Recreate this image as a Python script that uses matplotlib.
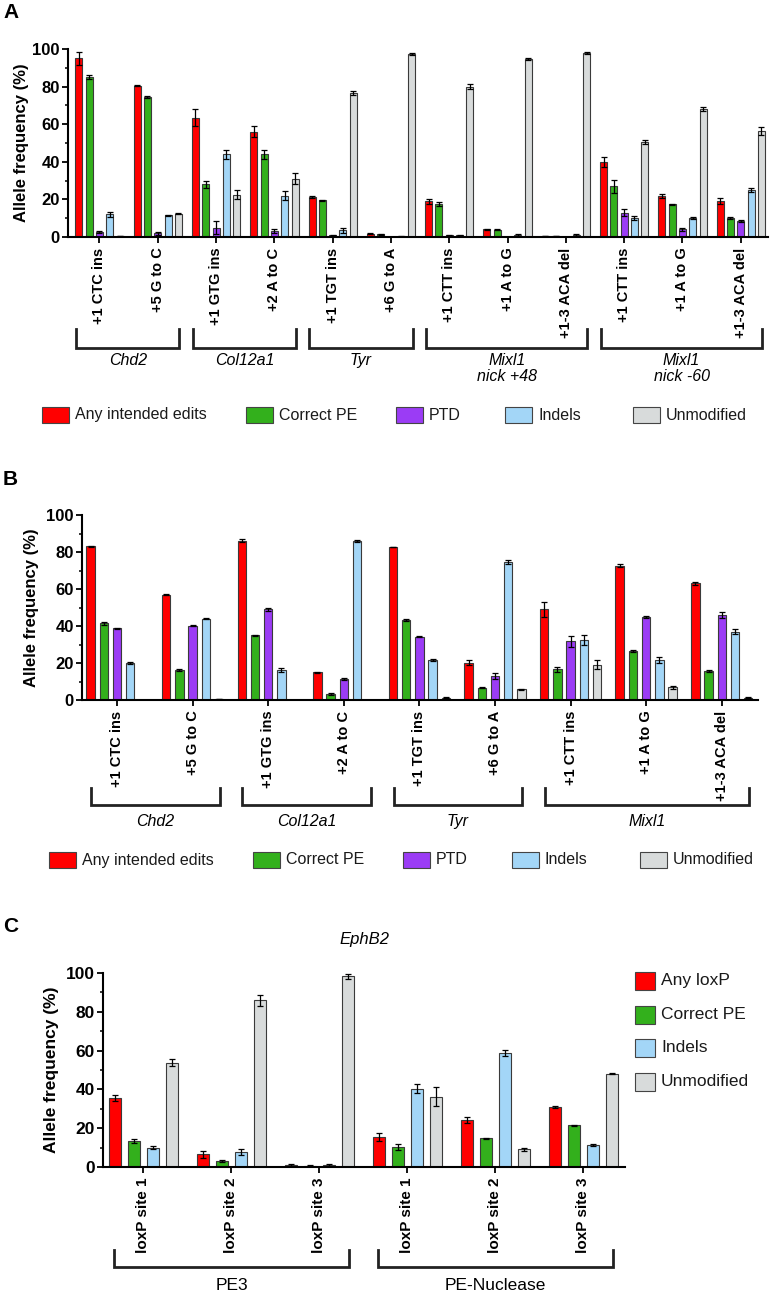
import matplotlib.pyplot as plt
import numpy as np
from matplotlib.patches import Rectangle
from matplotlib.transforms import blended_transform_factory

plt.rcParams['font.family'] = ['Liberation Sans', 'DejaVu Sans']

W, H = 771, 1295

# ---------------- data ----------------
red, green, purple, blue, gray = '#ff0000', '#33b01c', '#9b3cf5', '#a3d6f7', '#d8dbdb'

# panel A
a_labels = ['+1 CTC ins', '+5 G to C', '+1 GTG ins', '+2 A to C', '+1 TGT ins',
            '+6 G to A', '+1 CTT ins', '+1 A to G', '+1-3 ACA del',
            '+1 CTT ins', '+1 A to G', '+1-3 ACA del']
a_any = [95, 80.5, 63.5, 56, 21.5, 1.8, 19, 4, 0.5, 40, 22, 19]
a_correct = [85, 74.5, 28, 44, 19.5, 1.5, 17.5, 3.8, 0.5, 27, 17.5, 10]
a_ptd = [2.5, 2, 5, 3, 1, 0, 0.8, 0, 0, 13, 4, 8.5]
a_indels = [12, 11.5, 44, 22, 3.5, 0.4, 1, 1, 1, 10, 10, 25]
a_unmod = [0.5, 12.5, 22.5, 31, 76.5, 97.5, 80, 94.5, 98, 50.5, 68, 56.5]
a_any_err = [3.5, 0.3, 4.5, 3, 0.5, 0.3, 1.2, 0.5, 0.2, 2.5, 1, 1.5]
a_correct_err = [1, 0.3, 2, 2.5, 0.3, 0.3, 1, 0.3, 0.1, 3.5, 0.3, 0.5]
a_ptd_err = [0.5, 0.8, 3.5, 1, 0.3, 0, 0.3, 0, 0, 2, 0.7, 0.7]
a_indels_err = [1.5, 0.3, 2.5, 2.5, 1.5, 0.2, 0.3, 0.4, 0.4, 1.2, 0.4, 1]
a_unmod_err = [0.2, 0.4, 2.5, 3, 1.2, 0.5, 1.2, 0.5, 0.5, 1, 1, 2]
a_genes = ['Chd2', 'Col12a1', 'Tyr', 'Mixl1\nnick +48', 'Mixl1\nnick -60']
a_gene_span = [(0, 1), (2, 3), (4, 5), (6, 8), (9, 11)]

# panel B
b_labels = ['+1 CTC ins', '+5 G to C', '+1 GTG ins', '+2 A to C', '+1 TGT ins',
            '+6 G to A', '+1 CTT ins', '+1 A to G', '+1-3 ACA del']
b_any = [83, 57, 86, 15, 82.7, 20.2, 49, 72.7, 63]
b_correct = [41.5, 16.2, 35, 3.2, 43.2, 6.7, 16.5, 26.5, 15.7]
b_ptd = [38.8, 40.2, 49, 11.2, 34.2, 13, 31.8, 45, 46]
b_indels = [20, 44, 16.2, 86, 21.6, 74.6, 32.5, 21.6, 37]
b_unmod = [0, 0.4, 0, 0, 1.3, 5.9, 19, 6.8, 1.3]
b_any_err = [0.5, 0.3, 0.8, 0.3, 0.2, 1.2, 4, 1, 0.8]
b_correct_err = [0.8, 0.3, 0.2, 0.4, 0.6, 0.4, 1.5, 0.4, 0.3]
b_ptd_err = [0.3, 0.3, 0.8, 0.5, 0.4, 1.5, 3, 0.6, 1.5]
b_indels_err = [0.5, 0.2, 1.2, 0.4, 0.5, 1.2, 2.5, 1.5, 1.2]
b_unmod_err = [0, 0.1, 0, 0, 0.3, 0.3, 2.5, 0.8, 0.3]
b_genes = ['Chd2', 'Col12a1', 'Tyr', 'Mixl1']
b_gene_span = [(0, 1), (2, 3), (4, 5), (6, 8)]

# panel C
c_labels = ['loxP site 1', 'loxP site 2', 'loxP site 3',
            'loxP site 1', 'loxP site 2', 'loxP site 3']
c_any = [35.7, 6.5, 1, 15.6, 24.2, 30.9]
c_correct = [13.4, 3, 0.7, 10.3, 14.8, 21.5]
c_indels = [10, 7.9, 0.8, 40.4, 58.6, 11.3]
c_unmod = [53.8, 85.9, 98.2, 36.3, 9.1, 48.1]
c_any_err = [1.5, 2, 0.5, 2, 1.5, 0.5]
c_correct_err = [0.8, 0.5, 0.3, 1.5, 0.4, 0.3]
c_indels_err = [0.8, 1.5, 0.5, 2.5, 1.5, 0.4]
c_unmod_err = [1.8, 2.8, 1.2, 5, 0.8, 0.4]
c_groups = ['PE3', 'PE-Nuclease']
c_group_span = [(0, 2), (3, 5)]

ab_legend = ['Any intended edits', 'Correct PE', 'PTD', 'Indels', 'Unmodified']
c_legend = ['Any loxP', 'Correct PE', 'Indels', 'Unmodified']

narrow = ['Liberation Sans Narrow', 'Liberation Sans', 'DejaVu Sans']


def fx(x):
    return x / W


def fy(y):
    return 1 - y / H


def make_axes(fig, left, right, top, bottom):
    return fig.add_axes([fx(left), fy(bottom), (right - left) / W, (bottom - top) / H])


def draw_bars(ax, series, errs, colors, step, width, tick_labels, xlim, ysize, xsize):
    n = len(series)
    x = np.arange(len(series[0]))
    for k, (vals, err, col) in enumerate(zip(series, errs, colors)):
        pos = x + (k - (n - 1) / 2) * step
        ax.bar(pos, vals, width=width, color=col, edgecolor='#3a3a3a', linewidth=0.8, zorder=2)
        ax.errorbar(pos, vals, yerr=err, fmt='none', ecolor='black', elinewidth=0.9,
                    capsize=2, capthick=0.9, zorder=3)
    ax.set_xlim(*xlim)
    ax.set_ylim(0, 100)
    ax.set_yticks(np.arange(0, 101, 20))
    ax.set_yticks(np.arange(10, 100, 20), minor=True)
    ax.set_xticks(x)
    ax.set_xticklabels(tick_labels, rotation=90, fontsize=xsize, fontweight='bold')
    for lab in ax.get_yticklabels():
        lab.set_fontweight('bold')
        lab.set_fontsize(ysize)
    for s in ['top', 'right']:
        ax.spines[s].set_visible(False)
    for s in ['left', 'bottom']:
        ax.spines[s].set_linewidth(1.5)
    ax.tick_params(axis='y', which='major', length=4.5, width=1.3, pad=1.5)
    ax.tick_params(axis='y', which='minor', length=2.5, width=1.1)
    ax.tick_params(axis='x', which='major', length=4.5, width=1.3, pad=3)
    ax.set_ylabel('Allele frequency (%)', fontweight='bold', fontsize=12)


def draw_brackets(ax, names, spans, y_top, y_bot, y_text, lo, hi, **kw):
    tr = blended_transform_factory(ax.transData, ax.transAxes)
    for name, (a, b) in zip(names, spans):
        xs = [a - lo, a - lo, b + hi, b + hi]
        ys = [y_top, y_bot, y_bot, y_top]
        ax.plot(xs, ys, color='#222222', lw=2, transform=tr, clip_on=False,
                solid_joinstyle='miter')
        ax.text((a + b) / 2 + (hi - lo) / 2, y_text, name, transform=tr,
                ha='center', va='top', linespacing=1.05, **kw)


def legend_row(fig, labels, colors, lefts, yc, w=27, h=16):
    for lab, col, x0 in zip(labels, colors, lefts):
        fig.add_artist(Rectangle((fx(x0), fy(yc + h / 2)), w / W, h / H,
                                 transform=fig.transFigure, facecolor=col,
                                 edgecolor='#444444', linewidth=0.8))
        fig.text(fx(x0 + w + 6), fy(yc), lab, va='center', ha='left',
                 fontsize=11.5, color='#1a1a1a')


fig = plt.figure(figsize=(W / 100, H / 100), dpi=100)

# ---------------- panel A ----------------
ax_a = make_axes(fig, 68, 768, 49, 237)
draw_bars(ax_a, [a_any, a_correct, a_ptd, a_indels, a_unmod],
          [a_any_err, a_correct_err, a_ptd_err, a_indels_err, a_unmod_err],
          [red, green, purple, blue, gray], 0.177, 0.12, a_labels,
          (-0.54, 11.467), 12, 10.5)
ax_a.yaxis.set_label_coords(-0.055, 0.5)
draw_brackets(ax_a, a_genes, a_gene_span, -0.489, -0.590, -0.617, 0.40, 0.37,
              fontsize=11.5, style='italic')
legend_row(fig, ab_legend, [red, green, purple, blue, gray],
           [42, 246, 396, 505, 633], 415)
fig.text(fx(3), fy(13), 'A', fontsize=15, fontweight='bold', va='center', ha='left')

# ---------------- panel B ----------------
ax_b = make_axes(fig, 82, 758, 515, 700)
draw_bars(ax_b, [b_any, b_correct, b_ptd, b_indels, b_unmod],
          [b_any_err, b_correct_err, b_ptd_err, b_indels_err, b_unmod_err],
          [red, green, purple, blue, gray], 0.175, 0.112, b_labels,
          (-0.463, 8.479), 12, 10.5)
ax_b.yaxis.set_label_coords(-0.064, 0.5)
draw_brackets(ax_b, b_genes, b_gene_span, -0.476, -0.568, -0.615, 0.34, 0.36,
              fontsize=11.5, style='italic')
legend_row(fig, ab_legend, [red, green, purple, blue, gray],
           [49, 253, 403, 512, 640], 860)
fig.text(fx(3), fy(479), 'B', fontsize=15, fontweight='bold', va='center', ha='left')

# ---------------- panel C ----------------
ax_c = make_axes(fig, 103, 625, 973, 1167)
draw_bars(ax_c, [c_any, c_correct, c_indels, c_unmod],
          [c_any_err, c_correct_err, c_indels_err, c_unmod_err],
          [red, green, blue, gray], 0.216, 0.136, c_labels,
          (-0.46, 5.472), 12.5, 11)
ax_c.set_ylabel('Allele frequency (%)', fontweight='bold', fontsize=12.5)
ax_c.yaxis.set_label_coords(-0.084, 0.5)
ax_c.set_title('EphB2', style='italic', fontsize=12, pad=21)
draw_brackets(ax_c, c_groups, c_group_span, -0.428, -0.515, -0.57, 0.33, 0.33,
              fontsize=12.5, family=narrow)
for i, (lab, col) in enumerate(zip(c_legend, [red, green, blue, gray])):
    yc = 981 + i * 33.5
    fig.add_artist(Rectangle((fx(635), fy(yc + 9)), 20 / W, 18 / H,
                             transform=fig.transFigure, facecolor=col,
                             edgecolor='#444444', linewidth=0.8))
    fig.text(fx(661), fy(yc), lab, va='center', ha='left', fontsize=12.5,
             family=narrow, color='#1a1a1a')
fig.text(fx(3), fy(927), 'C', fontsize=15, fontweight='bold', va='center', ha='left')

fig.savefig('out.png', dpi=100)
